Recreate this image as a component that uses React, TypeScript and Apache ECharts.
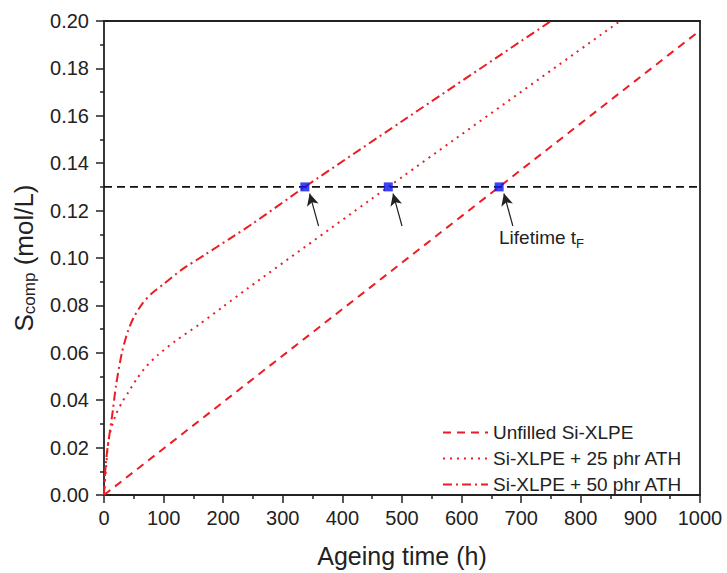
import React, { useEffect, useRef } from "react";
import * as echarts from "echarts";

// ---- data ----
const unfilledT = [0, 663, 1000];
const unfilledS = [0, 0.13, 0.196];

const ath25T = [0, 3, 7, 12, 20, 30, 40, 55, 70, 90, 120, 160, 200, 240, 477, 866];
const ath25S = [0, 0.01, 0.022, 0.028, 0.034, 0.039, 0.043, 0.049, 0.054, 0.059, 0.065, 0.072, 0.0795, 0.087, 0.13, 0.2];

const ath50T = [0, 2, 5, 10, 15, 20, 30, 40, 50, 65, 80, 100, 130, 170, 210, 250, 337, 500, 750];
const ath50S = [0, 0.01, 0.018, 0.027, 0.036, 0.046, 0.06, 0.069, 0.075, 0.081, 0.085, 0.089, 0.095, 0.1015, 0.108, 0.1146, 0.13, 0.1577, 0.2];

const seriesNames = ["Unfilled Si-XLPE", "Si-XLPE + 25 phr ATH", "Si-XLPE + 50 phr ATH"];
const threshold = 0.13;
const lifetimes = [337, 477, 663];
const xTicks = { min: 0, max: 1000, interval: 100 };
const yTicks = { min: 0, max: 0.2, interval: 0.02 };

const RED = "#ec1c24";
const FONT = "Liberation Sans, Arial, sans-serif";

const zip = (a: number[], b: number[]) => a.map((v, i) => [v, b[i]]);

export default function App() {
  const ref = useRef<HTMLDivElement>(null);
  useEffect(() => {
    if (!ref.current) return;
    const chart = echarts.init(ref.current, null, { renderer: "svg" });
    const axisCommon = {
      axisLine: { show: true, onZero: false, lineStyle: { color: "#222", width: 1.8 } },
      splitLine: { show: false },
    };
    chart.setOption({
      animation: false,
      backgroundColor: "#fff",
      textStyle: { fontFamily: FONT },
      grid: { left: 104, right: 27, top: 21, bottom: 75 },
      legend: {
        data: seriesNames,
        orient: "vertical",
        left: 437,
        top: 418,
        itemWidth: 45,
        itemHeight: 14,
        itemGap: 7,
        itemStyle: { opacity: 0 },
        textStyle: { fontSize: 19, color: "#222", fontFamily: FONT },
      },
      xAxis: [
        {
          type: "value",
          ...xTicks,
          ...axisCommon,
          axisTick: { show: true, inside: false, length: 8, lineStyle: { color: "#222", width: 1.5 } },
          minorTick: { show: true, splitNumber: 2, length: 4, lineStyle: { color: "#222", width: 1.5 } },
          axisLabel: {
            fontSize: 20,
            color: "#222",
            margin: 13,
            fontFamily: FONT,
            formatter: (v: number) => String(v),
          },
          name: "Ageing time (h)",
          nameLocation: "middle",
          nameGap: 48,
          nameTextStyle: { fontSize: 25, color: "#222", fontFamily: FONT },
        },
        {
          type: "value",
          position: "top",
          ...xTicks,
          ...axisCommon,
          axisTick: { show: false },
          axisLabel: { show: false },
        },
      ],
      yAxis: [
        {
          type: "value",
          ...yTicks,
          ...axisCommon,
          axisTick: { show: true, inside: false, length: 8, lineStyle: { color: "#222", width: 1.5 } },
          minorTick: { show: true, splitNumber: 2, length: 4, lineStyle: { color: "#222", width: 1.5 } },
          axisLabel: {
            fontSize: 20,
            color: "#222",
            margin: 15,
            fontFamily: FONT,
            formatter: (v: number) => v.toFixed(2),
          },
          name: "{s|S}{sub|comp}{s| (mol/L)}",
          nameLocation: "middle",
          nameRotate: 90,
          nameGap: 66,
          nameTextStyle: {
            rich: {
              s: { fontSize: 26, color: "#222", fontFamily: FONT },
              sub: { fontSize: 17, color: "#222", fontFamily: FONT, verticalAlign: "bottom", padding: [12, 0, 0, 0] },
            },
          },
        },
        {
          type: "value",
          position: "right",
          ...yTicks,
          ...axisCommon,
          axisTick: { show: false },
          axisLabel: { show: false },
        },
      ],
      series: [
        {
          name: "threshold",
          type: "line",
          data: [
            [xTicks.min, threshold],
            [xTicks.max, threshold],
          ],
          symbol: "none",
          lineStyle: { color: "#111", width: 1.6, type: [8, 5] },
          silent: true,
          z: 1,
        },
        {
          name: seriesNames[0],
          type: "line",
          data: zip(unfilledT, unfilledS),
          symbol: "none",
          color: RED,
          lineStyle: { color: RED, width: 2, type: [8, 6] },
          z: 2,
        },
        {
          name: seriesNames[1],
          type: "line",
          data: zip(ath25T, ath25S),
          symbol: "none",
          smooth: 0.25,
          color: RED,
          lineStyle: { color: RED, width: 2, type: [2, 5] },
          z: 2,
        },
        {
          name: seriesNames[2],
          type: "line",
          data: zip(ath50T, ath50S),
          symbol: "none",
          smooth: 0.25,
          color: RED,
          lineStyle: { color: RED, width: 2, type: [9, 4, 2, 4] },
          z: 2,
        },
        {
          name: "lifetime",
          type: "scatter",
          data: lifetimes.map((t) => [t, threshold]),
          symbol: "rect",
          symbolSize: 9,
          itemStyle: { color: "#0a14f0" },
          z: 5,
          markLine: {
            silent: true,
            symbol: ["none", "arrow"],
            symbolSize: [9, 12],
            label: { show: false },
            lineStyle: { color: "#222", width: 1.2, type: "solid" },
            data: lifetimes.map((t) => [
              { coord: [t + 23, threshold - 0.0165] },
              { coord: [t + 8, threshold - 0.0028] },
            ]),
          },
        },
      ],
      graphic: [
        {
          type: "text",
          left: 499,
          top: 228,
          style: {
            text: "{a|Lifetime t}{b|F}",
            rich: {
              a: { fontSize: 19, fill: "#222", fontFamily: FONT },
              b: { fontSize: 13, fill: "#222", fontFamily: FONT, padding: [11, 0, 0, 0] },
            },
          },
        },
      ],
    });
    return () => chart.dispose();
  }, []);
  return (
    <div
      ref={ref}
      style={{ position: "fixed", left: 0, top: 0, width: 727, height: 573 }}
    />
  );
}
